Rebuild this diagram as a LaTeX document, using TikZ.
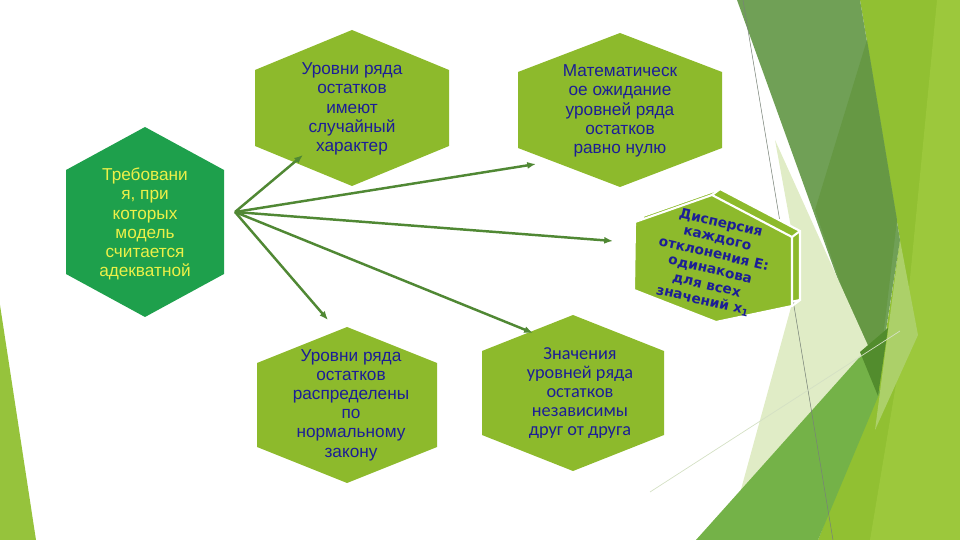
\documentclass[tikz,border=0pt]{standalone}
\usepackage{fontspec}
\setmainfont{Liberation Sans}
\newfontfamily\calfont{Carlito}
\newfontfamily\verfont{DejaVu Sans}
\usepackage{tikz}
\usetikzlibrary{arrows.meta}
\definecolor{hexlime}{RGB}{141,186,44}
\definecolor{hexgreen}{RGB}{30,160,76}
\definecolor{txtblue}{RGB}{28,30,150}
\definecolor{txtyellow}{RGB}{236,240,72}
\definecolor{arrowgreen}{RGB}{80,136,52}
\definecolor{facetyg}{RGB}{145,192,50}
\definecolor{facetlight}{RGB}{156,200,60}
\definecolor{facetsliver}{RGB}{172,208,105}
\definecolor{facetdark}{RGB}{112,160,86}
\definecolor{facetdarker}{RGB}{102,152,68}
\definecolor{facetpale}{RGB}{224,236,198}
\definecolor{facetmid}{RGB}{116,178,72}
\definecolor{facettip}{RGB}{82,140,45}
\definecolor{facetleft}{RGB}{150,195,60}
\definecolor{facetline}{RGB}{120,130,120}
\definecolor{facetfaint}{RGB}{212,224,196}
\newcommand{\hexa}[6]{%
  \fill[#6] (#1,#2) ++(0,-#4) -- ++(#3,{#4-#5}) -- ++(0,{2*#5})
    -- ++(-#3,{#4-#5}) -- ++(-#3,{-(#4-#5)}) -- ++(0,{-2*#5}) -- cycle;}

\begin{document}
\begin{tikzpicture}[x=0.02cm,y=-0.02cm,
  txt/.style={font=\fontsize{9.8}{10.9}\selectfont, text=txtblue, align=center, inner sep=0pt},
  conn/.style={draw=arrowgreen, line width=1.4pt, -{Latex[length=5pt,width=4pt]}}]
  \useasboundingbox (0,0) rectangle (960,540);

  \fill[facetyg] (860,0) -- (960,0) -- (960,540) -- (818,540) -- (877,390) -- (900,240) -- cycle;
  \fill[facetlight] (937,0) -- (960,0) -- (960,540) -- (870,540) -- (905,330) -- cycle;
  \fill[facetsliver] (900,240) -- (918,335) -- (875,430) -- cycle;
  \fill[facetdark] (737,0) -- (860,0) -- (900,240) -- (877,388) -- cycle;
  \fill[facetdarker] (867,40) -- (897,220) -- (877,388) -- (815,210) -- cycle;
  \fill[facetpale] (775,140) -- (870,350) -- (696,540) -- (727,540) -- (740,493) -- (793,300) -- (792,233) -- cycle;
  \fill[facetmid] (696,540) -- (866,350) -- (880,392) -- (818,540) -- cycle;
  \fill[facettip] (860,352) -- (888,328) -- (878,396) -- cycle;
  \fill[facetleft] (0,305) -- (0,540) -- (36,540) -- cycle;
  \draw[facetline, line width=0.3pt] (743,0) -- (833,540);
  \draw[facetfaint, line width=0.4pt] (650,492) -- (900,331);

  \hexa{145}{222}{79}{95}{52}{hexgreen}
  \hexa{352}{108}{97}{78}{38}{hexlime}
  \hexa{620}{110}{102}{77}{38}{hexlime}
  \hexa{347}{405}{90}{78}{42}{hexlime}
  \hexa{573}{393}{91}{78}{42}{hexlime}

  \filldraw[fill=hexlime, draw=white, line width=1.2pt] (643,216) -- (720,189) -- (800,231) -- (800,300) -- (724,316) -- (642,284) -- cycle;
  \draw[white, line width=1.2pt] (712,195) -- (720,189) (792,237) -- (800,231) (792,306) -- (800,300);
  \filldraw[fill=hexlime, draw=white, line width=1.2pt] (635,222) -- (712,195) -- (792,237) -- (792,306) -- (716,322) -- (634,290) -- cycle;

  \node[txt, text=txtyellow] (req) at (145,224) {Требовани\\я, при\\которых\\модель\\считается\\адекватной};
  \node[txt] (rand) at (352,109) {Уровни ряда\\остатков\\имеют\\случайный\\характер};
  \node[txt] (mean) at (620,111) {Математическ\\ое ожидание\\уровней ряда\\остатков\\равно нулю};
  \node[txt] (norm) at (351,405) {Уровни ряда\\остатков\\распределены\\по\\нормальному\\закону};
  \node[txt, font=\calfont\fontsize{10.4}{10.9}\selectfont] (indep) at (580,393) {Значения\\уровней ряда\\остатков\\независимы\\друг от друга};
  \node[txt, rotate=-13, font=\verfont\bfseries\fontsize{7.8}{9.1}\selectfont] (disp) at (712,262) {Дисперсия\\каждого\\отклонения Е:\\одинакова\\для всех\\значений x\textsubscript{1}};

  \coordinate (src) at (235,212);
  \coordinate (randin) at (303,155);
  \coordinate (meanin) at (536,164);
  \coordinate (dispin) at (613,241);
  \coordinate (indepin) at (533,333);
  \coordinate (normin) at (328,320);
  \foreach \t in {randin,meanin,dispin,indepin,normin}
    \draw[conn] (src) -- (\t);
\end{tikzpicture}
\end{document}
